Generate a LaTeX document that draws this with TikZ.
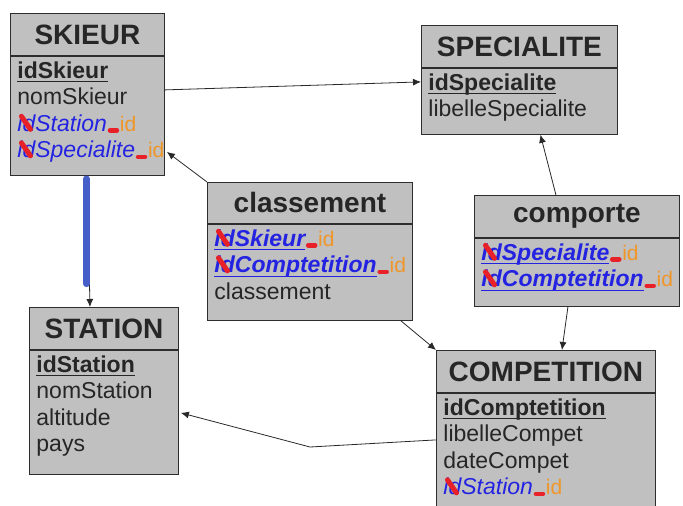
\documentclass[tikz,border=0pt]{standalone}
\usepackage{fontspec}
\setmainfont{Liberation Sans}
\usetikzlibrary{arrows.meta}
\definecolor{gris}{RGB}{192,192,192}
\definecolor{bord}{RGB}{45,45,45}
\definecolor{bleu}{RGB}{35,35,225}
\definecolor{rouge}{RGB}{232,32,40}
\definecolor{orangeid}{RGB}{240,150,40}
\definecolor{fleche}{RGB}{40,40,40}
\definecolor{bleutrait}{RGB}{70,95,200}
% soulignement a profondeur fixe
\newcommand{\souligne}[1]{\setbox0=\hbox{#1}\rlap{\rule[-4pt]{\wd0}{1.3pt}}\box0}
% annotations a la main : rature, tiret et suffixe id
\newcommand{\barre}{\rlap{\tikz[overlay]\draw[rouge,line width=5pt,line cap=round] (4pt,15pt) -- (13pt,2pt);}}
\newcommand{\rature}[1]{\setbox2=\hbox{#1}\rlap{\copy2}\barre\kern\wd2}
\newcommand{\trait}{\tikz[overlay]\draw[rouge,line width=4.5pt,line cap=round] (3pt,1pt) -- (10pt,1pt);\kern13pt}
\newcommand{\motid}{{\color{orangeid}\fontsize{21}{21}\selectfont\mdseries\upshape id}}
\newcommand{\cle}[1]{\souligne{\textbf{#1}}}
\newcommand{\etr}[1]{\mbox{{\color{bleu}\itshape\rature{#1}}\trait\motid}}
\newcommand{\etrcle}[1]{\mbox{{\color{bleu}\bfseries\itshape\rature{\souligne{#1}}}\trait\motid}}
\begin{document}
\begin{tikzpicture}[x=1pt,y=-1pt,>={Latex[length=8pt,width=7pt]},
  entete/.style={draw=bord,fill=gris,line width=0.9pt,anchor=north west,minimum height=42pt,inner sep=0pt,font=\fontsize{28}{32}\selectfont\bfseries,text=black!85},
  corps/.style={draw=bord,fill=gris,line width=0.9pt,anchor=north west,align=left,inner xsep=7pt,inner ysep=2pt,text height=20pt,font=\fontsize{23}{26.5}\selectfont,text=black!85},
  lien/.style={->,draw=fleche,line width=0.8pt}]
\useasboundingbox (0,0) rectangle (683,506);
\node[entete,minimum width=154pt,name=skieur] at (10,13){SKIEUR};
\node[corps,text width=140pt,text depth=95pt,name=skieurc] at (skieur.south west){\cle{idSkieur}\\ nomSkieur\\ \etr{idStation}\\ \etr{idSpecialite}};
\node[entete,minimum width=149pt,name=station] at (29,307){STATION};
\node[corps,text width=135pt,text depth=100pt,name=stationc] at (station.south west){\cle{idStation}\\ nomStation\\ altitude\\ pays};
\node[entete,minimum width=196pt,name=specialite] at (421,25){SPECIALITE};
\node[corps,text width=182pt,text depth=42pt,name=specialitec] at (specialite.south west){\cle{idSpecialite}\\ libelleSpecialite};
\node[entete,minimum width=205pt,minimum height=41pt,name=classement] at (207,182){classement};
\node[corps,text width=191pt,text depth=72pt,name=classementc] at (classement.south west){\etrcle{idSkieur}\\ \etrcle{idComptetition}\\ classement};
\node[entete,minimum width=205pt,name=comporte] at (474,195){comporte};
\node[corps,text width=191pt,text depth=44pt,name=comportec] at (comporte.south west){\etrcle{idSpecialite}\\ \etrcle{idComptetition}};
\node[entete,minimum width=219pt,name=competition] at (436,350){COMPETITION};
\node[corps,text width=205pt,text depth=104pt,name=competitionc] at (competition.south west){\cle{idComptetition}\\ libelleCompet\\ dateCompet\\ \etr{idStation}};
\draw[lien] ([yshift=-34pt]skieurc.north east) -- ([yshift=-14pt]specialitec.north west);
\draw[lien] (classement.north west) -- ([xshift=2pt,yshift=-96pt]skieurc.north east);
\draw[lien] (skieurc.south) -- ([xshift=-14pt]station.north);
\draw[bleutrait,line width=6.5pt,line cap=round] ([xshift=-1pt,yshift=-3pt]skieurc.south) -- ++(0,105);
\draw[lien] ([xshift=-12pt]classementc.south east) -- (competition.north west);
\draw[lien] ([xshift=-21pt]comporte.north) -- ([xshift=21pt]specialitec.south);
\draw[lien] ([xshift=-9pt]comportec.south) -- ([xshift=16pt]competition.north);
\coordinate (coude) at (310,447);
\draw[lien] ([yshift=-47pt]competitionc.north west) -- (coude) -- ([xshift=2pt,yshift=-63pt]stationc.north east);
\end{tikzpicture}
\end{document}
